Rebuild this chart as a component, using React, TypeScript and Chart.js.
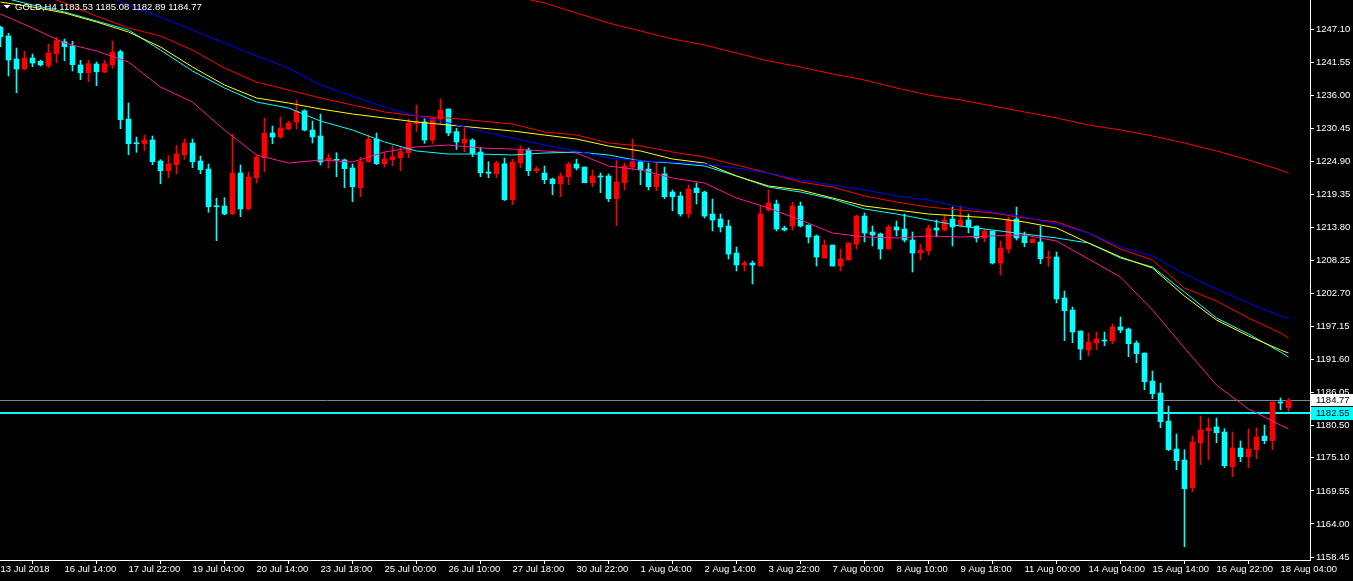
import React, { useEffect, useRef } from 'react';
import { Chart, registerables } from 'chart.js';

Chart.register(...registerables);

const FONT = '"Liberation Sans", Arial, sans-serif';

const symbolTitle = 'GOLD,H4';

const opens = [
  1247.39, 1245.93, 1242.06, 1240.38, 1242.23, 1241.68, 1240.94, 1242.95, 1244.97, 1244.25,
  1241.06, 1239.76, 1241.22, 1239.88, 1241.06, 1243.29, 1231.99, 1228.01, 1227.84, 1228.46,
  1224.94, 1223.31, 1224.32, 1225.95, 1227.96, 1224.94, 1223.59, 1217.38, 1217.38, 1216.09,
  1222.92, 1216.88, 1222.13, 1225.49, 1229.64, 1228.97, 1230.31, 1231.49, 1233.38, 1230.14,
  1229.14, 1225.11, 1225.22, 1225.11, 1223.76, 1220.46, 1224.82, 1228.63, 1224.48, 1225.16,
  1225.49, 1226.33, 1231.20, 1231.49, 1228.46, 1231.99, 1233.67, 1229.86, 1227.96, 1228.46,
  1226.45, 1223.09, 1222.81, 1224.48, 1218.44, 1224.60, 1226.78, 1223.31, 1222.92, 1221.92,
  1221.13, 1222.30, 1224.43, 1223.93, 1221.29, 1222.42, 1222.42, 1218.61, 1221.29, 1223.93,
  1224.82, 1223.59, 1220.62, 1222.76, 1219.73, 1219.06, 1216.04, 1220.40, 1219.73, 1216.04,
  1215.20, 1214.02, 1209.49, 1207.48, 1207.81, 1207.31, 1216.71, 1217.72, 1213.69, 1214.02,
  1217.38, 1214.19, 1212.35, 1208.65, 1210.83, 1207.31, 1208.32, 1211.00, 1215.70, 1213.02,
  1212.68, 1210.16, 1213.86, 1213.52, 1211.67, 1209.49, 1209.83, 1213.69, 1213.35, 1215.20,
  1214.02, 1215.03, 1214.02, 1212.01, 1213.19, 1207.81, 1210.16, 1215.20, 1212.35, 1211.22,
  1211.34, 1208.65, 1208.82, 1201.94, 1199.92, 1196.40, 1193.20, 1194.38, 1194.88, 1194.72,
  1197.07, 1196.73, 1194.38, 1192.70, 1188.00, 1185.99, 1181.28, 1176.58, 1174.74, 1170.09,
  1177.64, 1179.66, 1180.28, 1179.44, 1173.61, 1176.75, 1175.29, 1176.47, 1178.77, 1177.98,
  1184.47, 1183.53,
];

const highs = [
  1247.60, 1246.38, 1243.91, 1243.36, 1242.90, 1241.90, 1244.58, 1245.71, 1245.42, 1245.04,
  1241.85, 1241.85, 1241.56, 1241.85, 1245.09, 1243.57, 1234.68, 1228.97, 1229.30, 1229.14,
  1225.16, 1225.83, 1227.57, 1228.68, 1228.63, 1225.78, 1224.43, 1218.68, 1218.78, 1229.47,
  1224.27, 1223.09, 1225.95, 1232.16, 1230.81, 1232.33, 1231.65, 1235.18, 1233.55, 1231.65,
  1232.83, 1226.11, 1226.33, 1225.27, 1224.43, 1225.56, 1229.30, 1229.64, 1226.45, 1227.51,
  1227.34, 1231.99, 1234.34, 1232.04, 1232.16, 1235.35, 1233.67, 1230.43, 1230.53, 1228.68,
  1227.24, 1224.82, 1224.94, 1225.44, 1225.22, 1227.51, 1227.12, 1223.98, 1224.10, 1222.08,
  1222.92, 1224.77, 1225.27, 1223.93, 1223.43, 1222.92, 1222.76, 1224.99, 1224.60, 1228.63,
  1224.94, 1224.60, 1224.77, 1223.93, 1220.07, 1219.73, 1220.91, 1221.24, 1219.90, 1218.56,
  1216.04, 1215.03, 1210.50, 1208.15, 1208.15, 1217.38, 1220.07, 1218.39, 1214.02, 1218.05,
  1218.05, 1214.19, 1212.52, 1211.67, 1210.83, 1210.16, 1211.17, 1215.87, 1216.21, 1214.02,
  1212.85, 1214.19, 1214.86, 1216.04, 1213.02, 1211.00, 1214.19, 1215.03, 1215.87, 1217.21,
  1217.38, 1216.04, 1214.02, 1213.52, 1213.19, 1211.51, 1215.54, 1217.21, 1213.02, 1211.84,
  1214.02, 1209.83, 1209.66, 1203.11, 1200.42, 1196.40, 1196.06, 1196.23, 1196.23, 1197.57,
  1198.75, 1196.90, 1194.72, 1192.70, 1189.68, 1187.66, 1183.80, 1179.10, 1176.47, 1178.77,
  1182.12, 1181.79, 1181.79, 1179.99, 1179.44, 1177.93, 1179.94, 1180.11, 1180.61, 1184.47,
  1185.15, 1185.08,
];

const lows = [
  1244.13, 1239.21, 1236.41, 1240.22, 1240.77, 1240.89, 1240.60, 1241.44, 1241.78, 1240.05,
  1238.59, 1238.25, 1237.58, 1239.76, 1240.50, 1230.36, 1226.00, 1226.40, 1226.67, 1224.32,
  1221.13, 1222.13, 1222.81, 1225.22, 1223.81, 1222.81, 1216.32, 1211.56, 1215.92, 1215.95,
  1215.59, 1216.75, 1221.24, 1223.14, 1227.84, 1228.75, 1230.20, 1230.31, 1229.98, 1227.96,
  1224.27, 1223.76, 1222.30, 1220.46, 1218.10, 1218.94, 1224.72, 1224.32, 1223.93, 1224.15,
  1223.31, 1225.49, 1229.86, 1227.91, 1227.91, 1231.20, 1229.19, 1226.90, 1226.50, 1225.66,
  1222.30, 1222.13, 1222.13, 1218.30, 1217.60, 1223.81, 1222.47, 1222.97, 1221.13, 1219.28,
  1218.94, 1220.96, 1223.43, 1221.29, 1220.62, 1219.62, 1218.10, 1214.08, 1220.12, 1223.43,
  1220.96, 1220.07, 1219.95, 1218.61, 1216.59, 1215.70, 1215.37, 1217.72, 1215.37, 1213.19,
  1213.02, 1208.48, 1206.47, 1206.47, 1204.29, 1207.31, 1216.54, 1213.19, 1213.19, 1213.35,
  1213.86, 1211.17, 1207.31, 1208.65, 1207.31, 1206.47, 1208.32, 1210.16, 1211.34, 1210.67,
  1208.48, 1210.16, 1212.35, 1211.34, 1206.30, 1208.32, 1209.16, 1212.18, 1213.19, 1210.67,
  1213.86, 1212.85, 1211.34, 1211.34, 1207.64, 1205.80, 1209.49, 1211.67, 1210.55, 1211.22,
  1207.70, 1207.19, 1201.10, 1194.77, 1194.43, 1191.58, 1192.25, 1193.26, 1193.93, 1194.26,
  1196.11, 1192.08, 1191.07, 1186.54, 1185.03, 1180.16, 1176.30, 1173.11, 1160.18, 1169.41,
  1173.95, 1174.79, 1177.64, 1173.44, 1171.93, 1174.45, 1173.44, 1174.95, 1177.47, 1176.47,
  1183.18, 1182.89,
];

const closes = [
  1245.81, 1241.90, 1240.38, 1242.23, 1241.39, 1241.06, 1243.07, 1245.14, 1244.13, 1241.11,
  1239.76, 1241.27, 1239.93, 1241.27, 1243.19, 1231.87, 1227.84, 1227.84, 1228.46, 1224.82,
  1223.31, 1224.43, 1226.11, 1227.96, 1224.82, 1223.48, 1217.26, 1217.26, 1216.04, 1222.92,
  1216.88, 1222.25, 1225.61, 1229.64, 1228.97, 1230.48, 1231.32, 1233.33, 1230.14, 1228.97,
  1224.77, 1225.44, 1225.06, 1223.65, 1220.62, 1224.82, 1228.58, 1224.48, 1225.27, 1225.66,
  1226.50, 1231.32, 1231.49, 1228.46, 1232.16, 1233.50, 1229.64, 1228.13, 1228.63, 1226.23,
  1222.97, 1222.87, 1224.60, 1218.44, 1224.77, 1226.78, 1223.31, 1223.65, 1221.80, 1221.13,
  1222.42, 1224.43, 1223.76, 1221.29, 1222.42, 1222.25, 1218.61, 1221.41, 1224.10, 1224.82,
  1223.43, 1220.62, 1222.59, 1218.94, 1218.94, 1216.04, 1220.24, 1219.62, 1215.70, 1215.03,
  1213.86, 1209.32, 1207.48, 1207.81, 1207.48, 1216.04, 1217.89, 1213.52, 1213.35, 1217.38,
  1214.02, 1212.18, 1208.82, 1210.83, 1207.31, 1208.48, 1211.17, 1215.70, 1212.85, 1212.52,
  1210.16, 1213.86, 1213.35, 1211.67, 1209.49, 1209.99, 1213.69, 1213.35, 1215.03, 1213.86,
  1215.03, 1213.86, 1212.01, 1213.19, 1207.81, 1210.33, 1215.03, 1212.01, 1211.22, 1211.84,
  1208.53, 1208.82, 1201.77, 1199.80, 1196.23, 1193.37, 1194.55, 1195.05, 1194.72, 1197.07,
  1196.56, 1194.26, 1192.58, 1187.88, 1185.87, 1181.17, 1176.47, 1174.62, 1169.92, 1177.76,
  1179.77, 1180.11, 1179.32, 1173.78, 1176.75, 1175.29, 1176.58, 1178.60, 1177.98, 1184.47,
  1184.31, 1184.77,
];

// moving averages at every 4th bar (and the last bar)
const maIdx = [
  0, 4, 8, 12, 16, 20, 24, 28, 32, 36, 40, 44, 48, 52, 56, 60, 64, 68, 72, 76, 80,
  84, 88, 92, 96, 100, 104, 108, 112, 116, 120, 124, 128, 132, 136, 140, 144, 148, 152, 156, 160, 161,
];
const maPink = [
  1249.62, 1247.27, 1244.75, 1243.41, 1241.56, 1237.36, 1234.84, 1230.14, 1225.95, 1224.60, 1225.11,
  1224.77, 1226.45, 1227.29, 1227.62, 1227.12, 1226.95, 1226.62, 1226.28, 1224.10, 1223.43,
  1222.08, 1221.24, 1218.73, 1217.05, 1215.03, 1212.85, 1212.18, 1212.01, 1212.35, 1212.18,
  1212.35, 1212.51, 1211.51, 1208.48, 1205.46, 1199.92, 1193.54, 1187.33, 1183.30, 1180.61, 1179.94,
];
const maCyan = [
  1252.47, 1251.13, 1249.96, 1248.44, 1246.93, 1243.57, 1240.05, 1237.20, 1234.84, 1233.84, 1231.65,
  1230.14, 1228.13, 1226.62, 1226.11, 1226.11, 1225.95, 1226.28, 1226.45, 1225.95, 1224.94,
  1224.60, 1224.10, 1222.42, 1220.57, 1219.73, 1218.56, 1216.88, 1216.04, 1215.03, 1214.02,
  1213.35, 1212.68, 1212.01, 1211.17, 1208.65, 1207.14, 1202.94, 1198.58, 1195.89, 1192.87, 1192.03,
];
const maYellow = [
  1251.63, 1250.79, 1249.79, 1248.28, 1246.60, 1244.08, 1240.72, 1237.70, 1235.52, 1234.68, 1233.67,
  1232.83, 1232.16, 1231.49, 1230.98, 1230.48, 1229.98, 1229.30, 1228.63, 1227.46, 1226.62,
  1225.27, 1224.60, 1222.42, 1220.74, 1220.07, 1218.73, 1217.38, 1216.71, 1216.04, 1215.70,
  1215.37, 1214.70, 1213.69, 1211.17, 1208.82, 1206.97, 1202.27, 1198.24, 1195.56, 1193.21, 1192.70,
];
const maRed = [
  1254.99, 1253.31, 1251.47, 1249.28, 1247.27, 1245.93, 1243.57, 1240.55, 1238.20, 1236.86, 1235.52,
  1234.34, 1233.17, 1232.49, 1232.16, 1231.65, 1231.15, 1229.81, 1229.30, 1227.96, 1227.46,
  1226.45, 1225.61, 1224.27, 1222.92, 1221.41, 1220.57, 1219.06, 1218.05, 1217.21, 1216.71,
  1216.21, 1215.37, 1214.70, 1212.85, 1210.16, 1208.32, 1203.61, 1201.43, 1198.58, 1196.06, 1195.22,
];
const maBlue = [
  1259.19, 1257.34, 1255.33, 1253.31, 1251.13, 1249.12, 1246.93, 1244.75, 1242.57, 1240.55, 1237.70,
  1235.85, 1234.00, 1232.49, 1231.32, 1229.98, 1228.80, 1227.62, 1226.62, 1225.44, 1224.94,
  1224.77, 1224.43, 1223.76, 1222.92, 1221.75, 1220.91, 1220.07, 1219.06, 1218.39, 1217.21,
  1216.38, 1215.54, 1214.36, 1212.85, 1210.50, 1209.01, 1205.97, 1203.45, 1201.10, 1198.91, 1198.58,
];
const maLongRed = [
  null, null, null, null, null, null, null, null, null, null, null,
  null, null, null, null, null, 1252.64, 1251.47, 1249.79, 1248.11, 1246.77,
  1245.42, 1244.41, 1243.07, 1241.73, 1240.72, 1239.55, 1238.54, 1237.20, 1236.02, 1235.18,
  1234.17, 1233.17, 1232.16, 1230.98, 1230.14, 1229.14, 1227.96, 1226.62, 1225.11, 1223.43, 1222.92,
];

const xTickIdx = [0, 8, 16, 24, 32, 40, 48, 56, 64, 72, 80, 88, 96, 104, 112, 120, 128, 136, 144, 152, 160];
const xTickLabels = [
  '13 Jul 2018', '16 Jul 14:00', '17 Jul 22:00', '19 Jul 04:00', '20 Jul 14:00', '23 Jul 18:00',
  '25 Jul 00:00', '26 Jul 10:00', '27 Jul 18:00', '30 Jul 22:00', '1 Aug 04:00', '2 Aug 14:00',
  '3 Aug 22:00', '7 Aug 00:00', '8 Aug 10:00', '9 Aug 18:00', '11 Aug 00:00', '14 Aug 04:00',
  '15 Aug 14:00', '16 Aug 22:00', '18 Aug 04:00',
];
const yTickValues = [
  1247.10, 1241.55, 1236.00, 1230.45, 1224.90, 1219.35, 1213.80, 1208.25, 1202.70,
  1197.15, 1191.60, 1186.05, 1180.50, 1175.10, 1169.55, 1164.00, 1158.45,
];

const bidPrice = 1184.77;
const hLinePrice = 1182.55;
const yMin = 1157.95;
const yMax = 1251.97;

const UP = '#ff0000';
const DOWN = '#00ffff';

export default function App() {
  const ref = useRef<HTMLCanvasElement>(null);

  useEffect(() => {
    document.body.style.margin = '0';
    document.body.style.background = '#000';
    const canvas = ref.current;
    if (!canvas) return;

    const colors = opens.map((o, i) => (closes[i] >= o ? UP : DOWN));
    const maPts = (arr: (number | null)[]) =>
      maIdx.map((x, k) => ({ x, y: arr[k] })).filter((p) => p.y !== null);
    const line = (label: string, arr: (number | null)[], color: string) => ({
      type: 'line' as const,
      label,
      data: maPts(arr),
      borderColor: color,
      borderWidth: 1,
      pointRadius: 0,
      tension: 0,
      fill: false,
      order: 0,
    });

    const bgPlugin = {
      id: 'bg',
      beforeDraw(chart: any) {
        const { ctx } = chart;
        ctx.save();
        ctx.fillStyle = '#000';
        ctx.fillRect(0, 0, chart.width, chart.height);
        ctx.restore();
      },
    };

    const priceLines = {
      id: 'priceLines',
      beforeDatasetsDraw(chart: any) {
        const { ctx, chartArea } = chart;
        const ys = chart.scales.y;
        const y1 = Math.round(ys.getPixelForValue(bidPrice)) + 0.5;
        const y2 = Math.round(ys.getPixelForValue(hLinePrice));
        ctx.save();
        ctx.strokeStyle = '#778899';
        ctx.lineWidth = 1;
        ctx.beginPath();
        ctx.moveTo(chartArea.left, y1);
        ctx.lineTo(chartArea.right, y1);
        ctx.stroke();
        ctx.strokeStyle = '#00ffff';
        ctx.lineWidth = 2;
        ctx.beginPath();
        ctx.moveTo(chartArea.left, y2);
        ctx.lineTo(chartArea.right, y2);
        ctx.stroke();
        ctx.restore();
      },
      afterDraw(chart: any) {
        const { ctx, chartArea } = chart;
        const ys = chart.scales.y;
        const y1 = Math.round(ys.getPixelForValue(bidPrice));
        const y2 = Math.round(ys.getPixelForValue(hLinePrice));
        const left = chartArea.right + 1;
        ctx.save();
        ctx.font = `9.5px ${FONT}`;
        ctx.textBaseline = 'middle';
        ctx.textAlign = 'left';
        ctx.fillStyle = '#ffffff';
        ctx.fillRect(left, y1 - 6, chart.width - left, 12);
        ctx.fillStyle = '#000';
        ctx.fillText(bidPrice.toFixed(2), left + 5, y1 + 0.5);
        ctx.fillStyle = '#00ffff';
        ctx.fillRect(left, y2 - 6, chart.width - left, 13);
        ctx.fillStyle = '#000';
        ctx.fillText(hLinePrice.toFixed(2), left + 5, y2 + 0.5);

        // header
        ctx.fillStyle = '#ffffff';
        ctx.beginPath();
        ctx.moveTo(3.5, 5);
        ctx.lineTo(10.5, 5);
        ctx.lineTo(7, 8.5);
        ctx.closePath();
        ctx.fill();
        const n = opens.length - 1;
        const header = `${symbolTitle} ${opens[n].toFixed(2)} ${highs[n].toFixed(2)} ${lows[n].toFixed(2)} ${closes[n].toFixed(2)}`;
        ctx.fillText(header, 15, 7);
        ctx.restore();
      },
    };

    const chart = new Chart(canvas, {
      type: 'bar',
      data: {
        datasets: [
          line('MA long', maLongRed, '#ff0000'),
          line('MA blue', maBlue, '#0000ff'),
          line('MA red', maRed, '#ff0000'),
          line('MA yellow', maYellow, '#ffff00'),
          line('MA cyan', maCyan, '#00ffff'),
          line('MA pink', maPink, '#ff1493'),
          {
            type: 'bar',
            label: 'body',
            data: opens.map((o, i) => ({ x: i, y: [o, closes[i]] })) as any,
            backgroundColor: colors,
            borderWidth: 0,
            barThickness: 5,
            minBarLength: 1,
            grouped: false,
            order: 1,
          } as any,
          {
            type: 'bar',
            label: 'wick',
            data: opens.map((_, i) => ({ x: i, y: [lows[i], highs[i]] })) as any,
            backgroundColor: colors,
            borderWidth: 0,
            barThickness: 1,
            minBarLength: 1,
            grouped: false,
            order: 2,
          } as any,
        ],
      },
      options: {
        responsive: false,
        animation: false,
        devicePixelRatio: 1,
        events: [],
        layout: { padding: 0 },
        plugins: {
          legend: { display: false },
          tooltip: { enabled: false },
        },
        scales: {
          x: {
            type: 'linear',
            position: 'bottom',
            min: -0.0625,
            max: -0.0625 + 1310 / 8,
            offset: false,
            grid: {
              drawOnChartArea: false,
              drawTicks: true,
              tickLength: 4,
              tickColor: '#ffffff',
              color: '#ffffff',
            },
            border: { display: true, color: '#ffffff', width: 1 },
            ticks: {
              autoSkip: false,
              maxRotation: 0,
              minRotation: 0,
              align: 'start',
              padding: 0,
              color: '#ffffff',
              font: { family: FONT, size: 9.5 },
              callback: (_v: any, i: number) => xTickLabels[i],
            },
            afterBuildTicks: (scale: any) => {
              scale.ticks = xTickIdx.map((v) => ({ value: v }));
            },
            afterFit: (scale: any) => {
              scale.height = 21;
              scale.paddingLeft = 0;
              scale.paddingRight = 0;
            },
          } as any,
          y: {
            type: 'linear',
            position: 'right',
            min: yMin,
            max: yMax,
            grid: {
              drawOnChartArea: false,
              drawTicks: true,
              tickLength: 4,
              tickColor: '#ffffff',
              color: '#ffffff',
            },
            border: { display: true, color: '#ffffff', width: 1 },
            ticks: {
              autoSkip: false,
              padding: 2,
              color: '#ffffff',
              font: { family: FONT, size: 9.5 },
              callback: (v: any) => Number(v).toFixed(2),
            },
            afterBuildTicks: (scale: any) => {
              scale.ticks = yTickValues.map((v) => ({ value: v }));
            },
            afterFit: (scale: any) => {
              scale.width = 43;
              scale.paddingTop = 0;
              scale.paddingBottom = 0;
            },
          } as any,
        },
      },
      plugins: [bgPlugin, priceLines],
    });

    return () => chart.destroy();
  }, []);

  return (
    <div style={{ width: 1353, height: 581, background: '#000' }}>
      <canvas ref={ref} width={1353} height={581} style={{ display: 'block' }} />
    </div>
  );
}
